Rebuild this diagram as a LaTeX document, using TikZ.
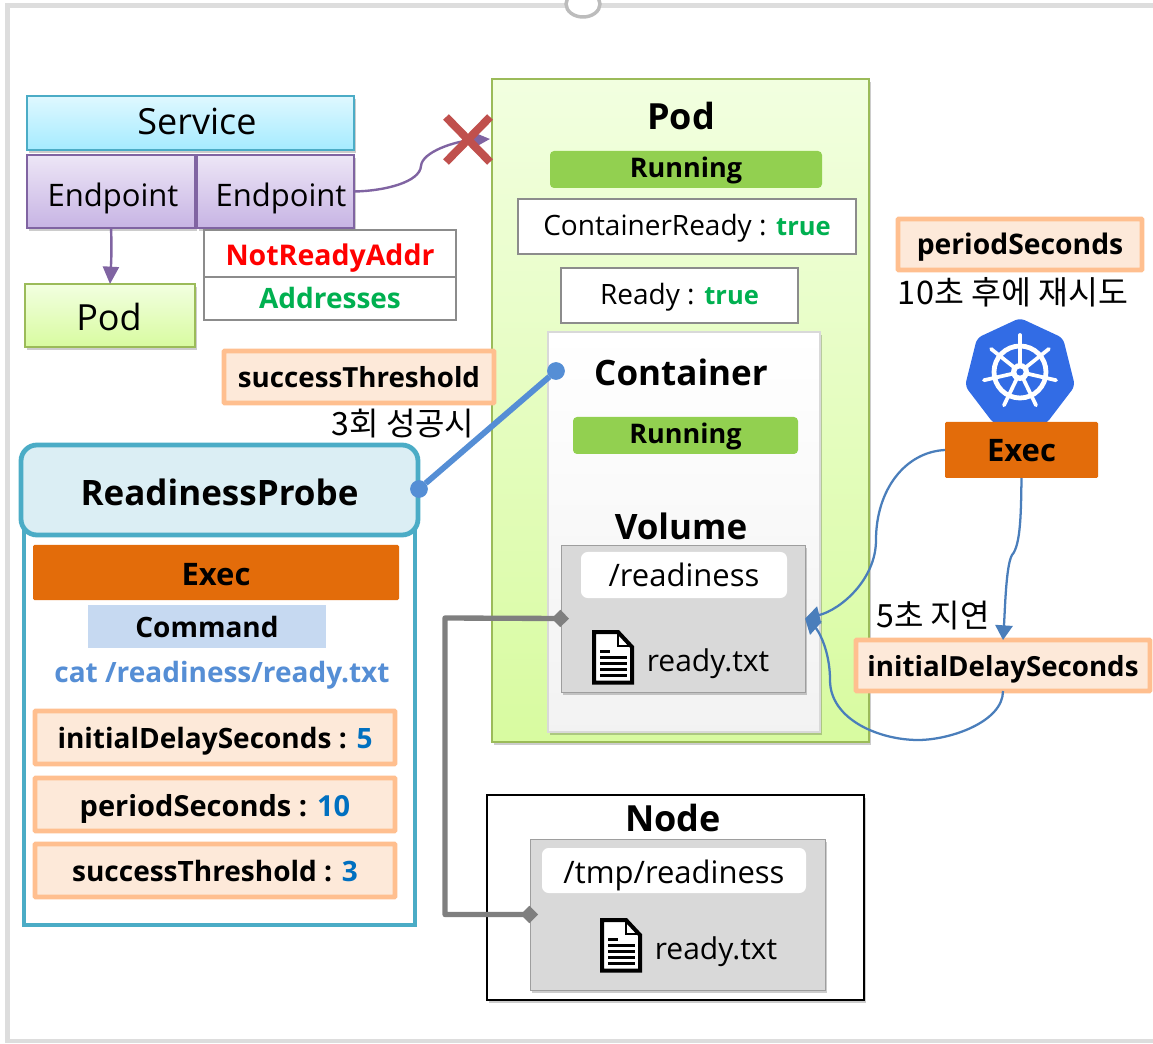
\documentclass[tikz,border=0pt]{standalone}
\usepackage{fontspec}
\setmainfont{Open Sans}
\newfontfamily\krf{Noto Sans CJK KR}
\usetikzlibrary{arrows.meta,shadows,calc}
\definecolor{frameg}{HTML}{DDDDDD}
\definecolor{tealb}{HTML}{4BACC6}
\definecolor{purpb}{HTML}{8064A2}
\definecolor{greenb}{HTML}{9BBB59}
\definecolor{orangeb}{HTML}{FFBF8F}
\definecolor{orangef}{HTML}{FDE9D9}
\definecolor{execf}{HTML}{E36C0A}
\definecolor{runf}{HTML}{92D050}
\definecolor{bluea}{HTML}{4A7EBB}
\definecolor{blued}{HTML}{558ED5}
\definecolor{kube}{HTML}{326CE5}
\definecolor{grayl}{HTML}{7F7F7F}
\definecolor{greent}{HTML}{00B050}
\definecolor{bluet}{HTML}{0070C0}
\definecolor{cmdf}{HTML}{C6D9F1}
\definecolor{crossc}{HTML}{C0504D}
\definecolor{svct}{HTML}{DFF8FF}
\definecolor{svcb}{HTML}{A5EBFF}
\definecolor{ept}{HTML}{EDE6F6}
\definecolor{epb}{HTML}{C7B4E4}
\definecolor{grt}{HTML}{F2FFE0}
\definecolor{grb}{HTML}{D8FBA0}
\newcommand\fpx[1]{\pgfmathsetmacro\tmpf{#1*0.75}\fontsize{\tmpf pt}{\tmpf pt}\selectfont}
\newcommand\pxbox[6]{%
  \pgfmathsetmacro\cxx{(#3+#5)/2}\pgfmathsetmacro\cyy{(#4+#6)/2}%
  \pgfmathsetmacro\wdd{(#5-#3)*0.75}\pgfmathsetmacro\htt{(#6-#4)*0.75}%
  \node[#2,minimum width=\wdd pt,minimum height=\htt pt] (#1) at (\cxx,\cyy) {};}
\tikzset{
  base/.style={inner sep=0pt,outer sep=0pt,align=center},
  softshadow/.style={drop shadow={shadow xshift=1.5pt,shadow yshift=-2pt,opacity=.2,fill=black}},
  label/.style={inner sep=0pt,outer sep=0pt,text=black,align=center},
  svcbox/.style={base,draw=tealb,line width=1.5pt,top color=svct,bottom color=svcb,softshadow},
  epbox/.style={base,draw=purpb,line width=1.5pt,top color=ept,bottom color=epb,softshadow},
  grbox/.style={base,draw=greenb,line width=1.5pt,top color=grt,bottom color=grb,softshadow},
  wbox/.style={base,draw=grayl!90,line width=1.3pt,fill=white},
  runbar/.style={base,fill=runf,rounded corners=3pt},
  execbar/.style={base,fill=execf,rounded corners=1pt},
  obox/.style={base,draw=orangeb,line width=3.4pt,fill=orangef,rounded corners=.5pt},
  panel/.style={base,draw=black!15,line width=.8pt,top color=white,bottom color=black!5,softshadow},
  volbox/.style={base,draw=black!38,line width=.7pt,fill=black!15,softshadow},
  pathbox/.style={base,fill=white,rounded corners=5pt},
  docicon/.pic={
    \draw[black,line width=3pt,fill=white,line join=miter] (2,2)--(26,2)--(40,17)--(40,52.5)--(2,52.5)--cycle;
    \draw[black,line width=2pt] (26,2)--(26,16)--(40,16);
    \fill[black] (8,20) rectangle (18,23);
    \foreach \yy in {26,32,38,44} {\fill[black] (8,\yy) rectangle (35,\yy+3);}
  },
  purparrow/.style={draw=purpb,line width=1.8pt,-{Triangle[length=13pt,width=12pt]}},
  bluearrow/.style={draw=bluea,line width=1.7pt,-{Triangle[length=11pt,width=13pt]}},
  mount/.style={draw=grayl,line width=4pt,line join=round,shorten <=-6pt,shorten >=-6pt,{Diamond[length=13pt,width=13pt]}-{Diamond[length=13pt,width=13pt]}},
}
\begin{document}
\begin{tikzpicture}[x=0.75pt,y=-0.75pt]
\useasboundingbox (0,0) rectangle (1153,1044);
% frame
\draw[frameg,line width=3.4pt] (1153,5.5) -- (7.5,5.5) -- (7.5,1041) -- (1153,1041);
\begin{scope}
\clip (0,0) rectangle (1153,1044);
\draw[frameg!85!black,line width=2.6pt,fill=white] (583,4) ellipse (17 and 13);
\end{scope}
% service side
\pxbox{svc}{svcbox}{27}{96}{354}{150}
\node[label] (svcl) at (197,121) {\fpx{36}Service};
\pxbox{epa}{epbox}{27}{155}{195}{228}
\node[label] (epal) at (113,198.5) {\fpx{31}Endpoint};
\pxbox{epb}{epbox}{197}{155}{354}{228}
\node[label] (epbl) at (281,198.5) {\fpx{31}Endpoint};
\pxbox{spod}{grbox}{25}{284}{195}{347}
\node[label] (spodl) at (109,317.5) {\fpx{36}Pod};
\pxbox{nra}{wbox}{204}{230}{456}{277}
\node[label] (nral) at (330,258) {\fpx{28.5}\bfseries\textcolor{red}{NotReadyAddr}};
\pxbox{addr}{wbox}{204}{277}{456}{320}
\node[label] (addrl) at (330,298.5) {\fpx{28}\bfseries\textcolor{greent}{Addresses}};
% pod
\pxbox{pod}{grbox}{492}{79}{869}{742}
\node[label] (podt) at (681,116) {\fpx{36}\bfseries Pod};
\pxbox{prun}{runbar}{550}{151}{822}{188}
\node[label] (prunl) at (686,170.5) {\fpx{27}\bfseries Running};
\pxbox{cready}{wbox}{518}{199}{856}{254}
\node[label] (creadyl) at (687,228.5) {\fpx{28}ContainerReady : \bfseries\fpx{25.5}\textcolor{greent}{true}};
\pxbox{ready}{wbox}{561}{268}{798}{323}
\node[label] (readyl) at (679.5,297.5) {\fpx{28}Ready : \bfseries\fpx{25.5}\textcolor{greent}{true}};
\pxbox{cont}{panel}{548}{332}{820}{732}
\node[label] (contt) at (681,372) {\fpx{35}\bfseries Container};
\pxbox{crun}{runbar}{573}{417}{798}{454}
\node[label] (crunl) at (685.5,436.5) {\fpx{27}\bfseries Running};
\node[label] (volt) at (681,526) {\fpx{35}\bfseries Volume};
\pxbox{vol}{volbox}{561}{545}{805}{692}
\pxbox{volp}{pathbox}{581}{552}{787}{598}
\node[label] (volpl) at (684,575) {\fpx{31}/readiness};
\node[label] (volf) at (708,664) {\fpx{30}ready.txt};
\pic at (592,630) {docicon};
% threshold
\pxbox{succ}{obox}{224}{351}{494}{403}
\node[label] (succl) at (359,377) {\fpx{27.7}\bfseries successThreshold};
\node[label] (succk) at (403,424) {\krf\fpx{32}3회 성공시};
% readiness probe
\pxbox{rpbody}{base,draw=tealb,line width=3pt,fill=white}{24}{520}{415}{925}
\pxbox{rphead}{base,draw=tealb,line width=3.6pt,fill=tealb!20,rounded corners=12pt}{21}{445}{418}{535}
\node[label] (rpheadl) at (219.5,492) {\fpx{35}\bfseries ReadinessProbe};
\pxbox{rpexec}{execbar}{33}{545}{399}{600}
\node[label] (rpexecl) at (216,574.5) {\fpx{31}\bfseries Exec};
\pxbox{rpcmd}{base,fill=cmdf}{88}{605}{326}{648}
\node[label] (rpcmdl) at (207,626.5) {\fpx{28}\bfseries Command};
\node[label] (rpcat) at (222,675) {\fpx{28}\bfseries\textcolor{blued}{cat /readiness/ready.txt}};
\pxbox{rpi}{obox}{35}{711}{395}{764}
\node[label] (rpil) at (215,741.5) {\fpx{28}\bfseries initialDelaySeconds : \textcolor{bluet}{5}};
\pxbox{rpp}{obox}{35}{778}{395}{831}
\node[label] (rppl) at (215,808.5) {\fpx{29}\bfseries periodSeconds : \textcolor{bluet}{10}};
\pxbox{rps}{obox}{35}{844}{395}{897}
\node[label] (rpsl) at (215,871.5) {\fpx{28}\bfseries successThreshold : \textcolor{bluet}{3}};
% dots and probe link
\node[base,circle,fill=blued,minimum size=14pt*0.95] (dota) at (556,371) {};
\node[base,circle,fill=blued,minimum size=14pt*0.95] (dotb) at (419,489) {};
\draw[blued,line width=4.4pt] (dota) -- (dotb);
% node
\pxbox{nodeb}{base,draw=black,line width=1.6pt,fill=white,softshadow}{487}{795}{864}{1000}
\node[label] (nodet) at (673,818) {\fpx{36}\bfseries Node};
\pxbox{hv}{volbox}{530}{839}{825}{990}
\pxbox{hvp}{pathbox}{542}{848}{806}{893}
\node[label] (hvpl) at (674,875.5) {\fpx{31}/tmp/readiness};
\node[label] (hvf) at (716,952) {\fpx{30}ready.txt};
\pic at (600,918) {docicon};
% mount connector
\coordinate (mnt) at (445,618);
\draw[mount] (vol.west) -- (mnt) |- (hv.west);
% right side
\pxbox{per}{obox}{898}{219}{1142}{270}
\node[label] (perl) at (1020,247.5) {\fpx{28.3}\bfseries periodSeconds};
\node[label] (perk) at (1013,292) {\krf\fpx{32.5}10초 후에 재시도};
\fill[kube,rounded corners=4pt] (1020,318) -- (1063,338) -- (1075,386) -- (1046,424) -- (994,424) -- (965,386) -- (977,338) -- cycle;
\begin{scope}[shift={(1020,372)}]
\draw[white,line width=3.6pt] (0,0) circle (26);
\foreach \aa in {90,141.43,192.86,244.29,295.71,347.14,38.57} {
  \draw[white,line width=2.8pt,line cap=round] (0,0) -- ({\aa}:{-37});
}
\fill[white] (0,0) circle (9);
\fill[kube] (0,0) circle (3.6);
\end{scope}
\pxbox{kexec}{execbar}{945}{422}{1098}{478}
\node[label] (kexecl) at (1021.5,451) {\fpx{31}\bfseries Exec};
\node[label] (delayk) at (933,616) {\krf\fpx{32}5초 지연};
\pxbox{init}{obox}{856}{640}{1150}{691}
\node[label] (initl) at (1003,669.5) {\fpx{27.7}\bfseries initialDelaySeconds};
% arrows
\draw[bluearrow] (kexec.west) .. controls (905,452) and (876,490) .. (876,540) .. controls (876,580) and (840,610) .. (vol.east);
\draw[bluearrow] (kexec.south) .. controls (1021,510) and (1021,545) .. (1012,555) .. controls (1006,565) and (1005,610) .. (init.north);
\draw[bluearrow] (init.south) .. controls (1003,722) and (950,740) .. (918,740) .. controls (880,740) and (830,720) .. (830,680) .. controls (830,650) and (818,630) .. (vol.east);
\coordinate (xc) at (490,139);
\draw[purparrow] (epb.east) .. controls (385,191) and (420,182) .. (421,166) .. controls (422,152) and (455,141) .. (xc);
\draw[purparrow] (epa.south) .. controls (112,250) and (111,265) .. (spod.north);
\draw[crossc,line width=6pt] (446,117) -- (490,162) (490,117) -- (446,162);
\end{tikzpicture}
\end{document}
